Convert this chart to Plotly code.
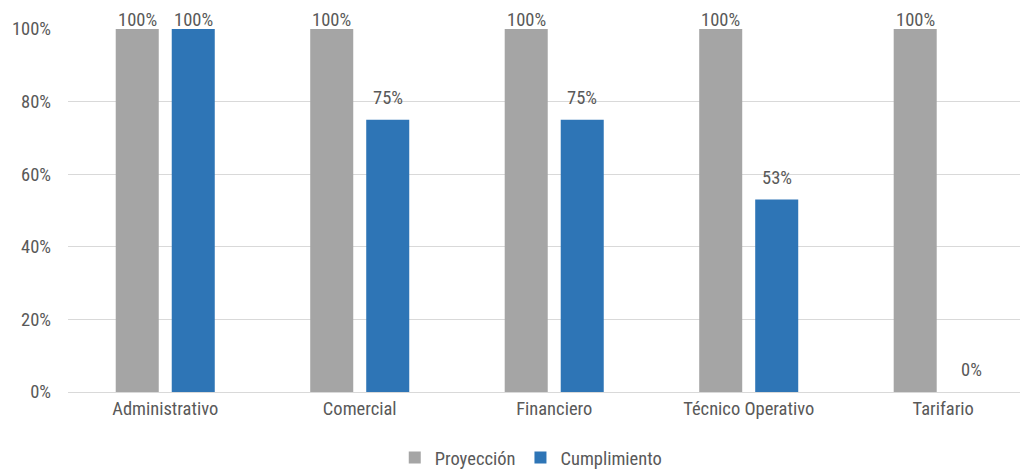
import plotly.graph_objects as go

categories = ["Administrativo", "Comercial", "Financiero", "Técnico Operativo", "Tarifario"]
proyeccion = [1.00, 1.00, 1.00, 1.00, 1.00]
cumplimiento = [1.00, 0.75, 0.75, 0.53, 0.00]
y_ticks = [0, 0.2, 0.4, 0.6, 0.8, 1.0]
y_tick_labels = ["0%", "20%", "40%", "60%", "80%", "100%"]

FONT = "Liberation Sans Narrow, Roboto Condensed, Roboto, Arial Narrow, sans-serif"
TXT = "#595959"
FS = 18.5
COLORS = {"Proyección": "#A5A5A5", "Cumplimiento": "#2E75B6"}

fig = go.Figure()
series = [("Proyección", proyeccion, -0.5), ("Cumplimiento", cumplimiento, 0.5)]
for name, vals, _ in series:
    fig.add_trace(go.Bar(
        name=name, x=categories, y=vals,
        marker=dict(color=COLORS[name], line=dict(width=0)),
        cliponaxis=False, hoverinfo="x+y",
    ))

# data labels, placed via axis coordinates (group offsets in category units)
SLOT = (1 - 0.424) / 2
for name, vals, side in series:
    for i, (c, v) in enumerate(zip(categories, vals)):
        fig.add_annotation(
            x=i + side * SLOT, y=v, xref="x", yref="y",
            text=f"{v:.0%}", showarrow=False, yanchor="bottom",
            yshift=-4 if v >= 1 else 9,
            font=dict(family=FONT, size=FS, color=TXT),
        )

fig.update_layout(
    width=1020, height=462,
    margin=dict(l=60, r=0, t=21, b=78, autoexpand=False),
    paper_bgcolor="white", plot_bgcolor="white",
    barmode="group", bargap=0.424, bargroupgap=0.232,
    font=dict(family=FONT, size=FS, color=TXT),
    showlegend=True,
    legend=dict(orientation="h", x=0.513, xref="container", xanchor="center",
                y=0.026, yref="container", yanchor="middle",
                font=dict(family=FONT, size=FS, color=TXT), itemwidth=30,
                traceorder="normal"),
    xaxis=dict(range=[-0.5, 4.436], showgrid=False, showline=True, linecolor="#D9D9D9",
               linewidth=1, ticks="", automargin=False,
               tickfont=dict(family=FONT, size=FS, color=TXT)),
    yaxis=dict(range=[0, 1], tickvals=y_ticks, ticktext=y_tick_labels,
               showgrid=True, gridcolor="#D9D9D9", gridwidth=1, zeroline=False,
               showline=False, ticks="", ticklabelstandoff=16, automargin=False,
               tickfont=dict(family=FONT, size=FS, color=TXT)),
)

fig.write_html("out.html")
